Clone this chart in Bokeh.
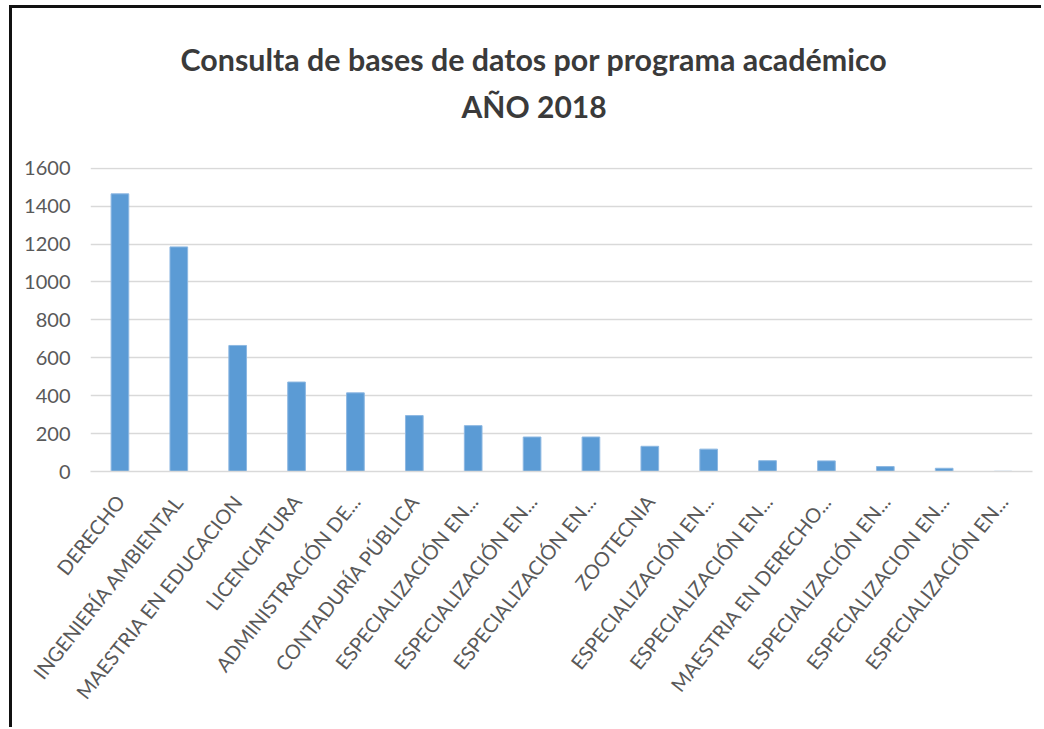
import math
from bokeh.plotting import figure
from bokeh.models import Range1d, FixedTicker, Title, ColumnDataSource
from bokeh.embed import file_html
from bokeh.resources import INLINE

programs = [
    "DERECHO", "INGENIERÍA AMBIENTAL", "MAESTRIA EN EDUCACION", "LICENCIATURA",
    "ADMINISTRACIÓN DE...", "CONTADURÍA PÚBLICA", "ESPECIALIZACIÓN EN...",
    "ESPECIALIZACIÓN EN...", "ESPECIALIZACIÓN EN...", "ZOOTECNIA",
    "ESPECIALIZACIÓN EN...", "ESPECIALIZACIÓN EN...", "MAESTRIA EN DERECHO...",
    "ESPECIALIZACIÓN EN...", "ESPECIALIZACION EN...", "ESPECIALIZACIÓN EN...",
]
consultas = [1465, 1185, 665, 472, 415, 295, 242, 182, 182, 133, 118, 57, 56, 26, 17, 1]
y_ticks = [0, 200, 400, 600, 800, 1000, 1200, 1400, 1600]
title_line1 = "Consulta de bases de datos por programa académico"
title_line2 = "AÑO 2018"

positions = list(range(len(programs)))
src = ColumnDataSource(dict(x=positions, y=consultas))

FONT = "Lato"

p = figure(
    width=1032, height=722,
    output_backend="svg", toolbar_location=None,
    x_range=Range1d(-0.5, len(programs) - 0.5),
    y_range=Range1d(0, 1604),
    min_border_left=78, min_border_right=12,
    min_border_top=159, min_border_bottom=259,
    title=None,
)
p.styles = {"border-left": "3px solid #111", "border-top": "3px solid #111",
            "margin-left": "9px", "margin-top": "5px"}

p.vbar(x="x", top="y", width=0.3, source=src,
       fill_color="#5B9BD5", line_color="#8DB8E2", line_width=1)

p.add_layout(Title(text=title_line2, align="left", offset=371, text_font=FONT,
                   text_font_size="30px", text_font_style="bold",
                   text_color="#3A3A3A", standoff=88), "above")
p.add_layout(Title(text=title_line1, align="left", offset=90, text_font=FONT,
                   text_font_size="30.4px", text_font_style="bold",
                   text_color="#3A3A3A", standoff=-70), "above")

p.outline_line_color = None
p.background_fill_color = "white"
p.border_fill_color = "white"

p.xgrid.grid_line_color = None
p.ygrid.grid_line_color = "#D9D9D9"
p.ygrid.grid_line_width = 1.5
p.ygrid.ticker = FixedTicker(ticks=y_ticks)

p.yaxis.ticker = FixedTicker(ticks=y_ticks)
p.yaxis.axis_line_color = None
p.yaxis.major_tick_line_color = None
p.yaxis.minor_tick_line_color = None
p.yaxis.major_label_text_font = FONT
p.yaxis.major_label_text_font_size = "20px"
p.yaxis.major_label_text_color = "#595959"
p.yaxis.major_label_standoff = 14

p.xaxis.ticker = FixedTicker(ticks=positions)
p.xaxis.major_label_overrides = {i: name for i, name in enumerate(programs)}
p.xaxis.axis_line_color = "#D9D9D9"
p.xaxis.axis_line_width = 1.5
p.xaxis.major_tick_line_color = None
p.xaxis.minor_tick_line_color = None
p.xaxis.major_label_orientation = 0.9
p.xaxis.major_label_text_font = FONT
p.xaxis.major_label_text_font_size = "20px"
p.xaxis.major_label_text_color = "#595959"
p.xaxis.major_label_standoff = 20

open("out.html", "w").write(file_html(p, INLINE))
